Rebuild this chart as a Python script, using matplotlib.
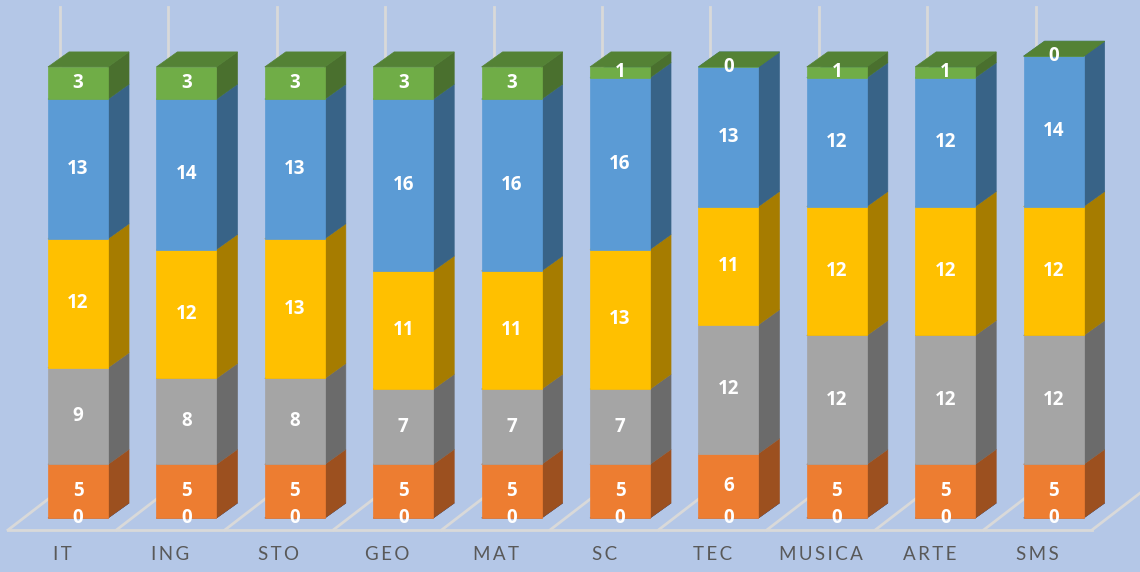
import matplotlib
matplotlib.use("Agg")
import matplotlib.pyplot as plt
from matplotlib.patches import Polygon

# data
categories = ["IT", "ING", "STO", "GEO", "MAT", "SC", "TEC", "MUSICA", "ARTE", "SMS"]
base_zero = [0, 0, 0, 0, 0, 0, 0, 0, 0, 0]
orange = [5, 5, 5, 5, 5, 5, 6, 5, 5, 5]
gray = [9, 8, 8, 7, 7, 7, 12, 12, 12, 12]
yellow = [12, 12, 13, 11, 11, 13, 11, 12, 12, 12]
blue = [13, 14, 13, 16, 16, 16, 13, 12, 12, 14]
green = [3, 3, 3, 3, 3, 1, 0, 1, 1, 0]

series = [base_zero, orange, gray, yellow, blue, green]
# (front, side, top)
colors = [
    ("#4472C4", "#2F4F88", "#3A62A8"),
    ("#ED7D31", "#9C501F", "#C86828"),
    ("#A5A5A5", "#6B6B6B", "#8A8A8A"),
    ("#FFC000", "#A67C00", "#D9A300"),
    ("#5B9BD5", "#386387", "#4A80B0"),
    ("#70AD47", "#4A702E", "#548235"),
]

bg = "#B4C7E7"
grid_c = "#D9D9D9"

# pixel -> data scale of the picture
px_x = 108.4     # pixels per category
px_y = 10.74     # pixels per value unit
x0_px = 78.0     # centre of first bar front face
y0_px = 518.0    # base of the bars

half_w = 30 / px_x
dx = 21 / px_x
dy = 15 / px_y

fig = plt.figure(figsize=(11.4, 5.72), dpi=100)
fig.patch.set_facecolor(bg)
ax = fig.add_axes([0, 0, 1, 1])
ax.set_facecolor(bg)
ax.set_xlim(-x0_px / px_x, (1140 - x0_px) / px_x)
ax.set_ylim((y0_px - 572) / px_y, y0_px / px_y)
ax.axis("off")

n = len(categories)

# floor
floor_front = -12 / px_y
fl_left = (8 - x0_px) / px_x
fdx = 52 / px_x
fdy = 40 / px_y
ax.plot([fl_left, fl_left + n], [floor_front, floor_front], color=grid_c, lw=2, zorder=1)
for k in range(n + 1):
    xk = fl_left + k
    ax.plot([xk, xk + fdx], [floor_front, floor_front + fdy], color=grid_c, lw=2, zorder=1)
    ax.plot([xk + fdx, xk + fdx], [floor_front + fdy, (y0_px - 7) / px_y],
            color=grid_c, lw=2, zorder=1)

# bars
for i in range(n):
    bottom = 0
    for s, vals in enumerate(series):
        h = vals[i]
        fc, sc, tc = colors[s]
        L, R = i - half_w, i + half_w
        b, t = bottom, bottom + h
        side = Polygon([(R, b), (R + dx, b + dy), (R + dx, t + dy), (R, t)], closed=True,
                       fc=sc, ec=sc, lw=0.5, zorder=3)
        front = Polygon([(L, b), (R, b), (R, t), (L, t)], closed=True,
                        fc=fc, ec=fc, lw=0.5, zorder=3)
        top = Polygon([(L, t), (R, t), (R + dx, t + dy), (L + dx, t + dy)], closed=True,
                      fc=tc, ec=tc, lw=0.5, zorder=3)
        ax.add_patch(side)
        ax.add_patch(front)
        ax.add_patch(top)
        ax.text(i, b + h / 2, str(h), ha="center", va="center", color="white",
                fontsize=13.5, fontweight="bold", family=["Open Sans", "DejaVu Sans"], zorder=5)
        bottom = t

# category labels (spaced letters like the original)
for i, c in enumerate(categories):
    ax.text(i - 0.1458, (y0_px - 555) / px_y, "\u2009".join(c), ha="center", va="center",
            color="#595959", fontsize=13.5, family=["Lato", "DejaVu Sans"], zorder=5)

fig.savefig("out.png", dpi=100, facecolor=bg)
